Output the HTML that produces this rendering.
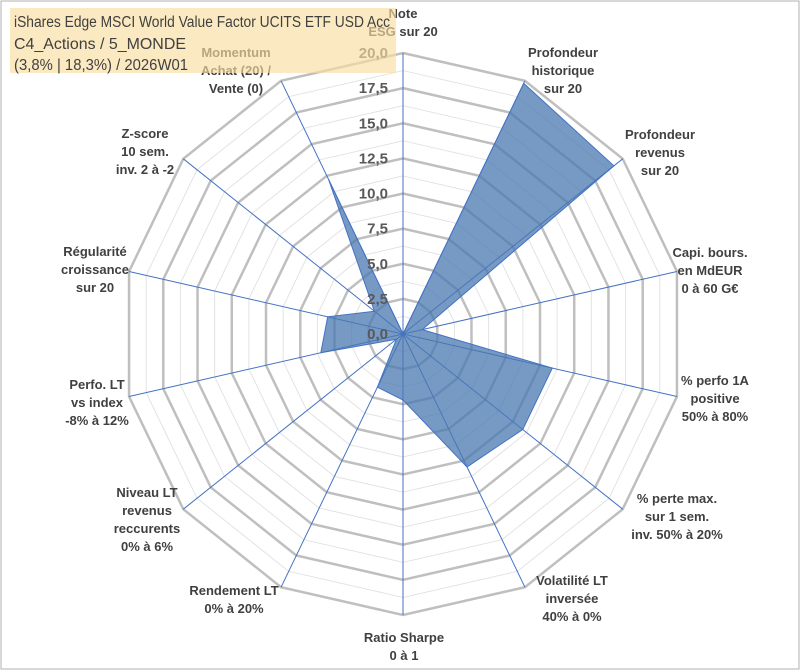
<!DOCTYPE html>
<html><head><meta charset="utf-8"><style>
body{margin:0;background:#fff;}
svg{display:block;font-family:"Liberation Sans",sans-serif;}
</style></head><body>
<svg id="chart" width="801" height="671" viewBox="0 0 801 671">
<rect x="1" y="1" width="798" height="668" fill="#fff" stroke="#b0b0b0"/>
<g id="grid"></g><g id="axes"></g><g id="series"></g><g id="ticks"></g><g id="labels"></g>
<rect x="10" y="8" width="386" height="65" fill="#f9dd9f" opacity="0.65"/>
<g font-family="Liberation Sans, sans-serif" font-size="15.5" fill="#404040">
<text x="14" y="27" textLength="376" lengthAdjust="spacingAndGlyphs">iShares Edge MSCI World Value Factor UCITS ETF USD Acc</text>
<text x="14" y="49" textLength="172" lengthAdjust="spacingAndGlyphs">C4_Actions / 5_MONDE</text>
<text x="14" y="70" textLength="174" lengthAdjust="spacingAndGlyphs">(3,8% | 18,3%) / 2026W01</text>
</g>
</svg>
<script>
const categories=[["Note","ESG sur 20"],["Profondeur","historique","sur 20"],["Profondeur","revenus","sur 20"],["Capi. bours.","en MdEUR","0 à 60 G€"],["% perfo 1A","positive","50% à 80%"],["% perte max.","sur 1 sem.","inv. 50% à 20%"],["Volatilité LT","inversée","40% à 0%"],["Ratio Sharpe","0 à 1"],["Rendement LT","0% à 20%"],["Niveau LT","revenus","reccurents","0% à 6%"],["Perfo. LT","vs index","-8% à 12%"],["Régularité","croissance","sur 20"],["Z-score","10 sem.","inv. 2 à -2"],["Momentum","Achat (20) /","Vente (0)"]];
const values=[0,19.8,19.2,1.4,10.9,10.9,10.5,4.7,4.2,0.6,6,5.5,2.6,12.2];
const tickLabels=["0,0","2,5","5,0","7,5","10,0","12,5","15,0","17,5","20,0"];
const maxVal=20;
const labelPos=[[403,13],[563,52],[660,134],[710,252],[715,380],[677,498],[572,580],[404,637],[234,590],[147,492],[97,384],[95,251],[145,133],[236,52]];
const NS="http://www.w3.org/2000/svg";
const cx=403,cy=334,R=281,N=categories.length;
function rScale(v){return v/maxVal*R;}
function pt(i,v){const a=i*2*Math.PI/N;return [cx+rScale(v)*Math.sin(a),cy-rScale(v)*Math.cos(a)];}
function mk(tag,attrs,parent){const e=document.createElementNS(NS,tag);for(const k in attrs)e.setAttribute(k,attrs[k]);parent.appendChild(e);return e;}
const grid=document.getElementById('grid');
for(let k=1;k<=16;k++){const v=k*1.25;const pts=[];for(let i=0;i<N;i++)pts.push(pt(i,v).join(','));
const major=k%2===0;
const g=mk('polygon',{points:pts.join(' '),fill:'none',stroke:major?'#bfbfbf':'#e3e3e3','stroke-width':major?2.5:1},grid);

}
const axes=document.getElementById('axes');
for(let i=0;i<N;i++){const p=pt(i,maxVal);const l=mk('line',{x1:cx,y1:cy,x2:p[0],y2:p[1],stroke:'#4472c4','stroke-width':1},axes);

}
const series=document.getElementById('series');
const sp=values.map((v,i)=>pt(i,v).join(',')).join(' ');
const poly=mk('polygon',{points:sp,fill:'#4a78b2','fill-opacity':0.75,stroke:'#4472c4','stroke-width':1},series);


const ticks=document.getElementById('ticks');
tickLabels.forEach((t,k)=>{const y=cy-rScale(k*2.5);const e=mk('text',{x:388,y:y+5,'text-anchor':'end','font-size':15,'font-weight':'bold',fill:'#595959'},ticks);e.textContent=t;

});
const labels=document.getElementById('labels');
categories.forEach((lines,i)=>{const g=mk('g',{},labels);


lines.forEach((s,j)=>{const e=mk('text',{x:labelPos[i][0],y:labelPos[i][1]+j*18+5,'text-anchor':'middle','font-size':13,'font-weight':'bold',fill:'#404040'},g);e.textContent=s;});});
</script>
</body></html>
